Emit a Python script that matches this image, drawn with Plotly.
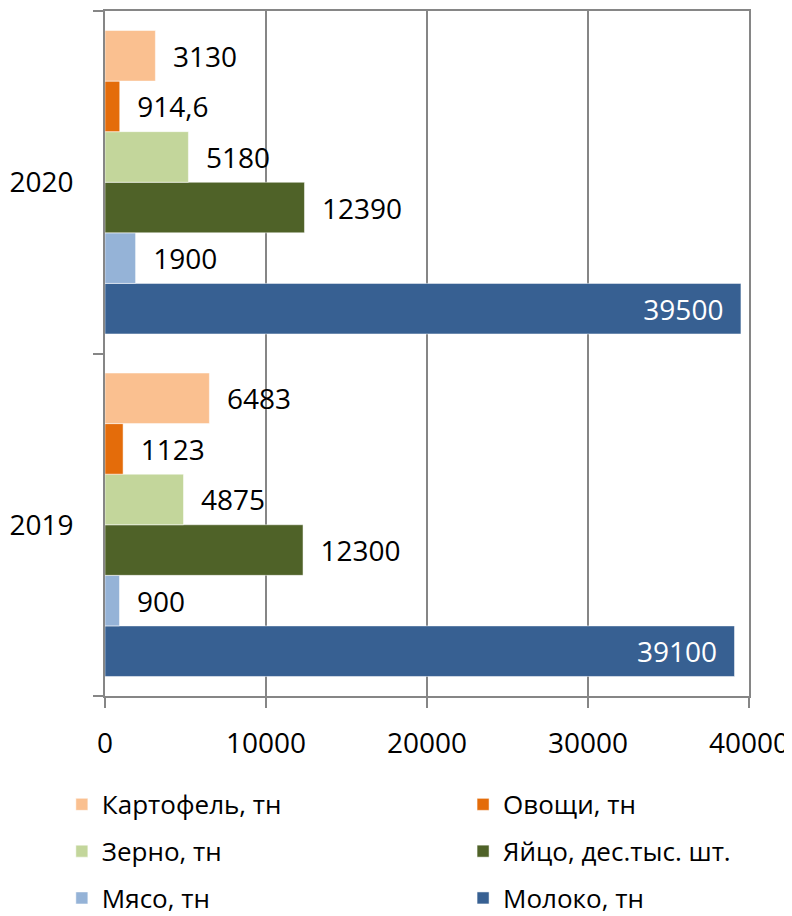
import plotly.graph_objects as go

years = ["2019", "2020"]
series_names = ["Картофель, тн", "Овощи, тн", "Зерно, тн", "Яйцо, дес.тыс. шт.", "Мясо, тн", "Молоко, тн"]
kartofel = [6483, 3130]
ovoshchi = [1123, 914.6]
zerno = [4875, 5180]
yaitso = [12300, 12390]
myaso = [900, 1900]
moloko = [39100, 39500]
colors = ["#FAC090", "#E46C0A", "#C3D69B", "#4F6228", "#95B3D7", "#376092"]
x_ticks = [0, 10000, 20000, 30000, 40000]

values = [kartofel, ovoshchi, zerno, yaitso, myaso, moloko]
FONT = "Open Sans"
PAD = "\u00a0\u00a0"

def fmt(v):
    return f"{v:g}".replace(".", ",")

fig = go.Figure()
# add in reverse so that the first series sits at the top of each group
for i in reversed(range(len(series_names))):
    inside = series_names[i].startswith("Молоко")
    txt = [fmt(v) + PAD if inside else PAD + fmt(v) for v in values[i]]
    fig.add_trace(go.Bar(
        y=years, x=values[i], orientation="h", name=series_names[i],
        marker=dict(color=colors[i], line=dict(color="white", width=0.5)),
        text=txt,
        textposition="inside" if inside else "outside",
        insidetextanchor="end",
        textfont=dict(color="white" if inside else "black", size=28, family=FONT),
        cliponaxis=False,
        legend="legend" if i % 2 == 0 else "legend2",
        legendgroup=series_names[i],
        legendrank=(i + 1) * 10,
    ))

legend_common = dict(
    orientation="v", traceorder="grouped", tracegroupgap=10,
    yanchor="top", xanchor="left", y=-0.124,
    font=dict(size=26, family=FONT), itemwidth=30,
    bgcolor="rgba(0,0,0,0)",
)

fig.update_layout(
    width=784, height=908,
    margin=dict(l=97, r=43, t=3, b=220, autoexpand=False),
    barmode="group", bargap=0.114, bargroupgap=0,
    plot_bgcolor="white", paper_bgcolor="white",
    font=dict(family=FONT, size=28, color="black"),
    showlegend=True,
    legend=dict(x=-0.067, **legend_common),
    legend2=dict(x=0.556, **legend_common),
)
fig.update_xaxes(
    range=[0, 40000], tickvals=x_ticks, tickformat="d",
    showgrid=True, gridcolor="#868686", gridwidth=1.5,
    showline=True, linecolor="#868686", linewidth=1.5, mirror=True,
    ticks="outside", ticklen=10, tickcolor="#868686", tickwidth=1.5,
    ticklabelstandoff=12, zeroline=False,
)
fig.update_yaxes(
    categoryorder="array", categoryarray=years,
    showline=True, linecolor="#868686", linewidth=1.5, mirror=True,
    ticks="outside", ticklen=10, tickcolor="#868686", tickwidth=1.5,
    tickson="boundaries", ticklabelstandoff=24, showgrid=False,
)

fig.write_html("out.html")
